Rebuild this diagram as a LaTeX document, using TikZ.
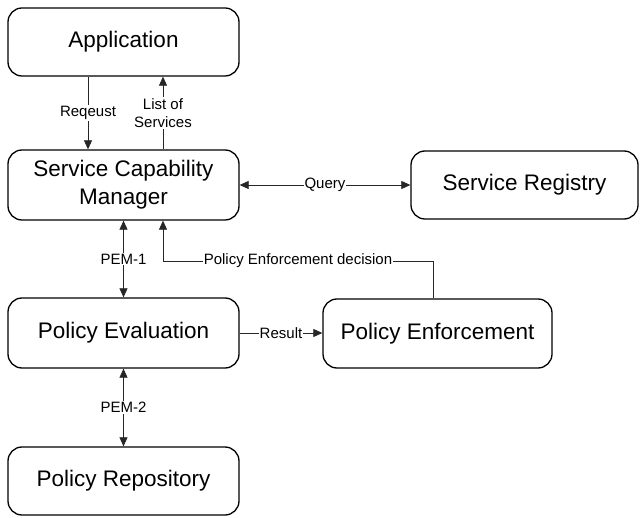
\documentclass[tikz,border=0pt]{standalone}
\usepackage{fontspec}
\setmainfont{Liberation Sans}
\usetikzlibrary{arrows.meta}

\begin{document}
\begin{tikzpicture}[x=1pt,y=-1pt,
  block/.style={draw, line width=1.3pt, rounded corners=14pt,
    minimum width=231pt, minimum height=68pt, inner sep=0pt,
    align=center, font=\fontsize{22.5}{28}\selectfont},
  link/.style={line width=0.7pt, draw=black!85},
  tip/.style={-{Triangle[length=9pt,width=8pt]}},
  tips/.style={{Triangle[length=9pt,width=8pt]}-{Triangle[length=9pt,width=8pt]}},
  lbl/.style={fill=white, inner sep=1pt, align=center,
    font=\fontsize{15}{18}\selectfont}
]
\useasboundingbox (0,0) rectangle (640,518);

% components
\node[block] (app)  at (123.5,42)  {Application};
\node[block, minimum height=70pt] (scm) at (123.5,185) {Service Capability\\Manager};
\node[block, minimum width=227pt] (sr) at (524.5,185) {Service Registry};
\node[block, minimum height=70pt] (pe) at (123.5,333) {Policy Evaluation};
\node[block, minimum width=229pt, minimum height=69pt] (penf) at (437.5,333.5) {Policy Enforcement};
\node[block] (pr)   at (123.5,481) {Policy Repository};

% reference points for the vertical connectors
\coordinate (xreq)  at (88,0);
\coordinate (xlist) at (163,0);
\coordinate (xdec)  at (433,0);
\coordinate (ydec)  at (0,261);

% connectors
\draw[link,tip] (app.south -| xreq) -- node[lbl]{Reqeust} (scm.north -| xreq);
\draw[link,tip] (scm.north -| xlist) -- node[lbl]{List of\\Services} (app.south -| xlist);
\draw[link,tips] (scm.east) -- node[lbl]{Query} (scm.east -| sr.west);
\draw[link,tips] (scm.south) -- node[lbl]{PEM-1} (pe.north);
\draw[link,tip] (pe.east) -- node[lbl]{Result} (pe.east -| penf.west);
\draw[link,tip] (penf.north -| xdec) -- (xdec |- ydec)
  -- node[lbl]{Policy Enforcement decision} (xlist |- ydec)
  -- (scm.south -| xlist);
\draw[link,tips] (pe.south) -- node[lbl]{PEM-2} (pr.north);
\end{tikzpicture}
\end{document}
